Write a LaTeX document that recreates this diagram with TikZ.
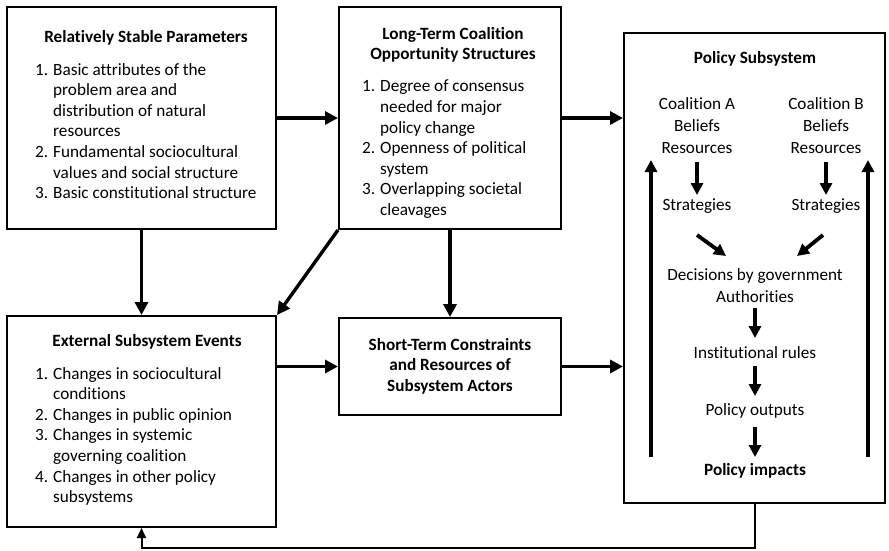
\documentclass[tikz,border=0pt]{standalone}
\usepackage{fontspec}
\setmainfont{Carlito}[Ligatures={NoCommon}]
\usetikzlibrary{arrows.meta}
\begin{document}
\begin{tikzpicture}[x=1pt,y=-1pt,
 box/.style={draw, line width=2pt, inner sep=0pt},
 ttl/.style={font=\fontsize{17.2}{20.5}\selectfont\bfseries, align=center, inner sep=0pt},
 lst/.style={font=\fontsize{17.2}{20.6}\selectfont, align=left, anchor=north west, inner sep=0pt},
 txt/.style={font=\fontsize{17.2}{22}\selectfont, align=center, inner sep=0pt},
 arr/.style={line width=3.4pt, -{Triangle[length=13pt,width=13pt]}},
 iarr/.style={line width=3.8pt, -{Triangle[length=12pt,width=12pt]}},
 fb/.style={line width=2pt, -{Triangle[length=10pt,width=9pt]}},
]
\useasboundingbox (0,0) rectangle (889,550);
\newcommand{\itm}[1]{\makebox[18pt][l]{#1}}
\newcommand{\ind}{\hspace*{18pt}}
% boxes
\node[box, minimum width=269pt, minimum height=222pt] (b1) at (141.5,118) {};
\node[box, minimum width=222pt, minimum height=222pt] (b2) at (450,118) {};
\node[box, minimum width=261pt, minimum height=470pt] (b3) at (754.5,268) {};
\node[box, minimum width=269pt, minimum height=211pt] (b4) at (141.5,421.5) {};
\node[box, minimum width=222pt, minimum height=97pt] (b5) at (450,366.5) {};
% box 1 text
\node[ttl] (t1) at (146,38) {Relatively Stable Parameters};
\node[lst] (l1) at (35,63) {\itm{1.}Basic attributes of the\\\ind problem area and\\\ind distribution of natural\\\ind resources\\\itm{2.}Fundamental sociocultural\\\ind values and social structure\\\itm{3.}Basic constitutional structure};
% box 2 text
\node[ttl] (t2) at (453,45) {Long-Term Coalition\\Opportunity Structures};
\node[lst] (l2) at (362,80) {\itm{1.}Degree of consensus\\\ind needed for major\\\ind policy change\\\itm{2.}Openness of political\\\ind system\\\itm{3.}Overlapping societal\\\ind cleavages};
% box 4 text
\node[ttl] (t4) at (147,342) {External Subsystem Events};
\node[lst] (l4) at (35,367) {\itm{1.}Changes in sociocultural\\\ind conditions\\\itm{2.}Changes in public opinion\\\itm{3.}Changes in systemic\\\ind governing coalition\\\itm{4.}Changes in other policy\\\ind subsystems};
% box 5 text
\node[ttl] (t5) at (450,366) {Short-Term Constraints\\and Resources of\\Subsystem Actors};
% box 3 contents
\node[ttl] (t3) at (755,59) {Policy Subsystem};
\node[txt] (ca) at (697,126) {Coalition A\\Beliefs\\Resources};
\node[txt] (cb) at (826,126) {Coalition B\\Beliefs\\Resources};
\node[txt] (sa) at (697,206) {Strategies};
\node[txt] (sb) at (826,206) {Strategies};
\node[txt] (dec) at (755,286) {Decisions by government\\Authorities};
\node[txt] (inst) at (755,353) {Institutional rules};
\node[txt] (outp) at (755,411) {Policy outputs};
\node[ttl] (imp) at (755,471) {Policy impacts};
\coordinate (da1) at (697,235);
\coordinate (da2) at (726,256);
\coordinate (db1) at (823,235);
\coordinate (db2) at (797,256);
\coordinate (lu1) at (651,457);
\coordinate (lu2) at (651,160);
\coordinate (ru1) at (868,457);
\coordinate (ru2) at (868,160);
\draw[iarr] (ca.south |- 0,162) -- (sa.north |- 0,195);
\draw[iarr] (cb.south |- 0,162) -- (sb.north |- 0,195);
\draw[iarr] (da1) -- (da2);
\draw[iarr] (db1) -- (db2);
\draw[iarr] (dec.south |- 0,308) -- (inst.north |- 0,338);
\draw[iarr] (inst.south |- 0,366) -- (outp.north |- 0,396);
\draw[iarr] (outp.south |- 0,427) -- (imp.north |- 0,457);
\draw[iarr] (lu1) -- (lu2);
\draw[iarr] (ru1) -- (ru2);
% connectors
\draw[arr] (b1.east) -- (b2.west);
\draw[arr] (b2.east) -- (b2.east -| b3.west);
\draw[arr] (b1.south) -- (b4.north);
\draw[arr] (b2.south) -- (b5.north);
\draw[arr] (b2.south west) -- (b4.north east);
\draw[arr] (b5.west -| b4.east) -- (b5.west);
\draw[arr] (b5.east) -- (b5.east -| b3.west);
\draw[fb] (b3.south) -- ++(0,44) -| (b4.south);
\end{tikzpicture}
\end{document}
